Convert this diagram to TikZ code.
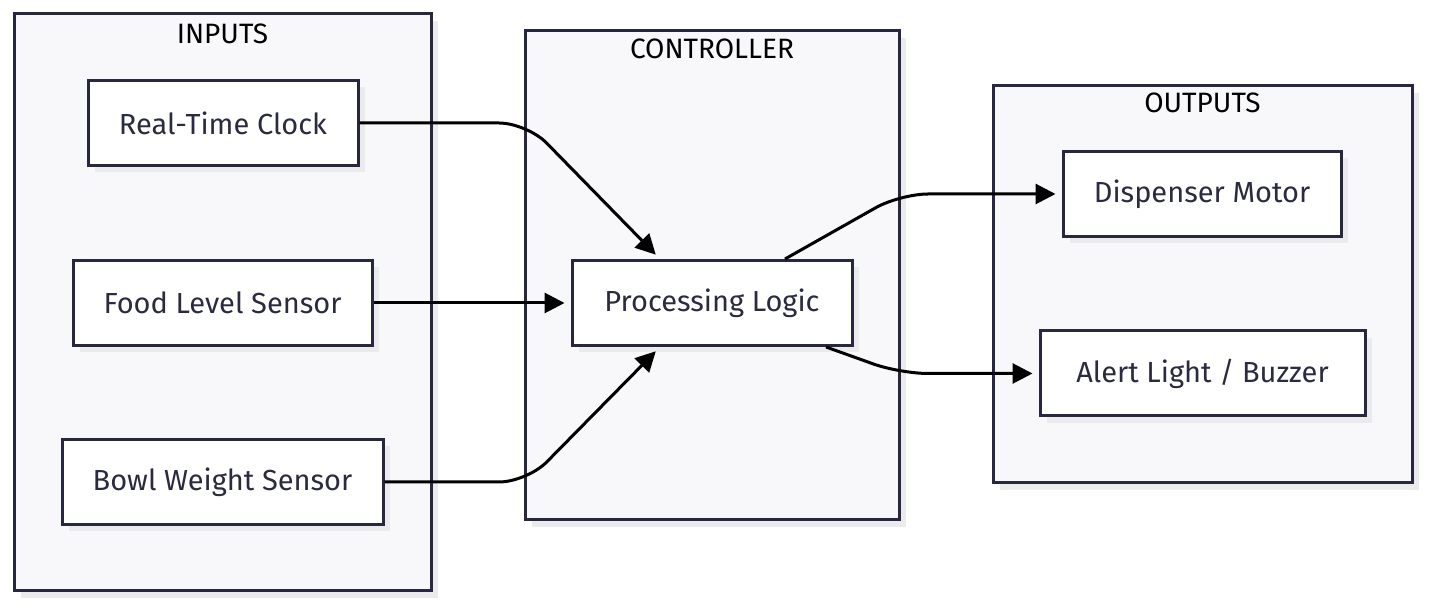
\documentclass[tikz,border=0pt]{standalone}
\usepackage{fontspec}
\setmainfont{Fira Sans}
\usetikzlibrary{positioning,arrows.meta,shadows}
\definecolor{edge}{HTML}{27273F}
\definecolor{panel}{HTML}{F8F8FA}
\definecolor{ink}{HTML}{2A2A40}
\tikzset{
  shade_box/.style={drop shadow={shadow xshift=3.5pt, shadow yshift=-3.5pt, fill=black!8, opacity=1}},
  group/.style={draw=edge, line width=1.5pt, fill=panel, inner sep=0pt, shade_box},
  group_title/.style={text=black, font=\fontsize{14pt}{16pt}\selectfont},
  block/.style={draw=edge, line width=1.5pt, fill=white, text=ink, inner sep=0pt, minimum height=42.5pt, shade_box,
    font=\fontsize{14.5pt}{17pt}\selectfont},
  flow/.style={line width=1.5pt, -{Triangle[length=10pt,width=10pt]}, shorten >=3pt, rounded corners=14pt},
}

\begin{document}
\begin{tikzpicture}
      [x=0.5pt, y=-0.5pt]
      \useasboundingbox (0,0) rectangle (1430,608);
      \node (inputs) [group, minimum width=208.5pt, minimum height=288.5pt] at (222.5,302.5) {};
      \node (controller) [group, minimum width=187pt, minimum height=244.5pt] at (712,275.5) {};
      \node (outputs) [group, minimum width=209.5pt, minimum height=198.5pt] at (1202.5,284.5) {};
      \node (inputs_title) [group_title, below=10.5pt of inputs.north, anchor=center] {INPUTS};
      \node (controller_title) [group_title, below=9.5pt of controller.north, anchor=center] {CONTROLLER};
      \node (outputs_title) [group_title, below=9pt of outputs.north, anchor=center] {OUTPUTS};
      \node (rtc) [block, minimum width=135pt] at (223,123) {Real-Time Clock};
      \node (food) [block, minimum width=149.5pt] at (222.5,303) {Food Level Sensor};
      \node (bowl) [block, minimum width=160.5pt] at (222.5,482) {Bowl Weight Sensor};
      \node (logic) [block, minimum width=140pt] at (712,303) {Processing Logic};
      \node (motor) [block, minimum width=139pt] at (1202,194) {Dispenser Motor};
      \node (alert) [block, minimum width=162.5pt] at (1202.5,373.5) {Alert Light / Buzzer};
      \draw[flow] (rtc.east) -- (527,123) -- ([xshift=-26pt]logic.north);
      \draw[flow] (food.east) -- (logic.west);
      \draw[flow] (bowl.east) -- (527,482) -- ([xshift=-26pt]logic.south);
      \draw[flow] ([xshift=36.5pt]logic.north) -- (900,194) -- (motor.west);
      \draw[flow] ([xshift=57pt]logic.south) -- (900,373.5) -- (alert.west);
    \end{tikzpicture}
\end{document}
